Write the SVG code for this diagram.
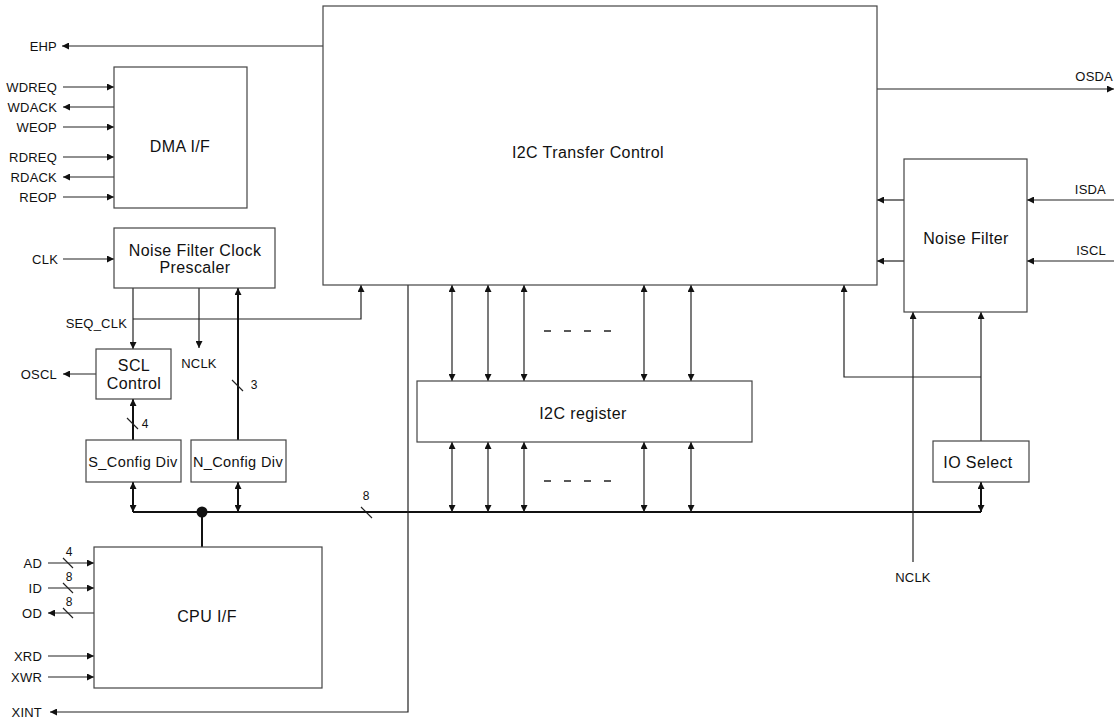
<svg xmlns="http://www.w3.org/2000/svg" width="1117" height="718" viewBox="0 0 1117 718">
<style>
.box{fill:#fff;stroke:#444;stroke-width:1.2}
.big{font-family:"Liberation Sans",Arial,sans-serif;font-size:16px;fill:#111;text-anchor:middle;letter-spacing:0.4px}
.sm{font-family:"Liberation Sans",Arial,sans-serif;font-size:13px;fill:#111;letter-spacing:0.2px}
.r{text-anchor:end}
.m{text-anchor:middle}
.num{font-family:"Liberation Sans",Arial,sans-serif;font-size:12px;fill:#111;text-anchor:middle}
.w{fill:none;stroke:#222;stroke-width:1.2}
.t{fill:none;stroke:#111;stroke-width:2}
.dash{fill:none;stroke:#222;stroke-width:1.4;stroke-dasharray:7 13}
.ae{marker-end:url(#a)}
.ab{marker-start:url(#a);marker-end:url(#a)}
</style>
<defs>
<marker id="a" viewBox="0 0 10 10" refX="10" refY="5" markerWidth="9" markerHeight="7" markerUnits="userSpaceOnUse" orient="auto-start-reverse">
<path d="M0,0 L10,5 L0,10 Z" fill="#111"/>
</marker>
</defs>
<rect width="1117" height="718" fill="#fff"/>

<g id="connectors">
<path class="w ae" d="M323,46 H62"/>
<path class="w ae" d="M63,87 H114"/>
<path class="w ae" d="M114,107 H63"/>
<path class="w ae" d="M63,127 H114"/>
<path class="w ae" d="M63,157 H114"/>
<path class="w ae" d="M114,177 H63"/>
<path class="w ae" d="M63,197 H114"/>
<path class="w ae" d="M63,259 H114"/>
<path class="w ae" d="M133,288 V349"/>
<path class="w ae" d="M133,319 H361 V285"/>
<path class="w ae" d="M199,288 V348"/>
<path class="w ae" d="M96,374 H63"/>
<path class="t ae" d="M238,440 V288"/>
<path class="t ae" d="M133,440 V399"/>
<path class="w" d="M127,418 L138,429 M232,380 L243,391 M361,507 L372,518"/>
<path class="t" d="M133,512 H981"/>
<path class="t" d="M202,512 V547"/>
<circle cx="202" cy="512" r="5.5" fill="#111"/>
<path class="t ab" d="M133,482 V512"/>
<path class="t ab" d="M238,482 V512"/>
<path class="t ab" d="M981,482 V512"/>
<path class="w ab" d="M452,285 V381"/>
<path class="w ab" d="M488,285 V381"/>
<path class="w ab" d="M524,285 V381"/>
<path class="w ab" d="M644,285 V381"/>
<path class="w ab" d="M691,285 V381"/>
<path class="w ab" d="M452,442 V512"/>
<path class="w ab" d="M488,442 V512"/>
<path class="w ab" d="M524,442 V512"/>
<path class="w ab" d="M644,442 V512"/>
<path class="w ab" d="M691,442 V512"/>
<path class="dash" d="M544,331 H612"/>
<path class="dash" d="M544,481 H612"/>
<path class="w ae" d="M48,563 H94"/>
<path class="w ae" d="M48,588 H94"/>
<path class="w ae" d="M94,613 H48"/>
<path class="w" d="M63,558 L73,568 M63,583 L73,593 M63,608 L73,618"/>
<path class="w ae" d="M48,656 H94"/>
<path class="w ae" d="M48,677 H94"/>
<path class="w ae" d="M408,285 V712 H50"/>
<path class="w ae" d="M877,89 H1114"/>
<path class="w ae" d="M1114,200 H1027"/>
<path class="w ae" d="M1114,261 H1027"/>
<path class="w ae" d="M904,200 H877"/>
<path class="w ae" d="M904,261 H877"/>
<path class="w ae" d="M913,562 V312"/>
<path class="w ae" d="M981,441 V312"/>
<path class="w ae" d="M981,377 H844 V285"/>
</g>

<g id="labels">
<text class="sm r" x="57" y="51">EHP</text>
<text class="sm r" x="57" y="92">WDREQ</text>
<text class="sm r" x="57" y="112">WDACK</text>
<text class="sm r" x="57" y="132">WEOP</text>
<text class="sm r" x="57" y="162">RDREQ</text>
<text class="sm r" x="57" y="182">RDACK</text>
<text class="sm r" x="57" y="202">REOP</text>
<text class="sm r" x="58" y="264">CLK</text>
<text class="sm r" x="127" y="328">SEQ_CLK</text>
<text class="sm m" x="199" y="368">NCLK</text>
<text class="sm r" x="57" y="379">OSCL</text>
<text class="num" x="145" y="428">4</text>
<text class="num" x="254" y="389">3</text>
<text class="num" x="366" y="500">8</text>
<text class="sm r" x="42" y="568">AD</text>
<text class="sm r" x="42" y="593">ID</text>
<text class="sm r" x="42" y="618">OD</text>
<text class="num" x="69" y="556">4</text>
<text class="num" x="69" y="581">8</text>
<text class="num" x="69" y="606">8</text>
<text class="sm r" x="42" y="661">XRD</text>
<text class="sm r" x="42" y="682">XWR</text>
<text class="sm r" x="42" y="717">XINT</text>
<text class="sm r" x="1113" y="81">OSDA</text>
<text class="sm r" x="1106" y="194">ISDA</text>
<text class="sm r" x="1106" y="255">ISCL</text>
<text class="sm m" x="913" y="582">NCLK</text>
</g>

<g id="tc"><rect class="box" x="323" y="6" width="554" height="279"/><text class="big" x="588" y="158">I2C Transfer Control</text></g>
<g id="dma"><rect class="box" x="114" y="67" width="133" height="141"/><text class="big" x="180" y="152">DMA I/F</text></g>
<g id="prescaler"><rect class="box" x="114" y="228" width="161" height="60"/><text class="big" x="195" y="256">Noise Filter Clock</text><text class="big" x="195" y="273">Prescaler</text></g>
<g id="scl"><rect class="box" x="96" y="349" width="75" height="50"/><text class="big" x="134" y="371">SCL</text><text class="big" x="134" y="389">Control</text></g>
<g id="sconfig"><rect class="box" x="86" y="440" width="95" height="42"/><text class="big" x="133" y="467" style="font-size:14.5px">S_Config Div</text></g>
<g id="nconfig"><rect class="box" x="191" y="440" width="95" height="42"/><text class="big" x="238" y="467" style="font-size:14.5px">N_Config Div</text></g>
<g id="cpu"><rect class="box" x="94" y="547" width="228" height="141"/><text class="big" x="207" y="622">CPU I/F</text></g>
<g id="reg"><rect class="box" x="417" y="381" width="335" height="61"/><text class="big" x="583" y="419">I2C register</text></g>
<g id="nf"><rect class="box" x="904" y="159" width="123" height="153"/><text class="big" x="966" y="244">Noise Filter</text></g>
<g id="iosel"><rect class="box" x="933" y="441" width="96" height="41"/><text class="big" x="978" y="468">IO Select</text></g>
</svg>
